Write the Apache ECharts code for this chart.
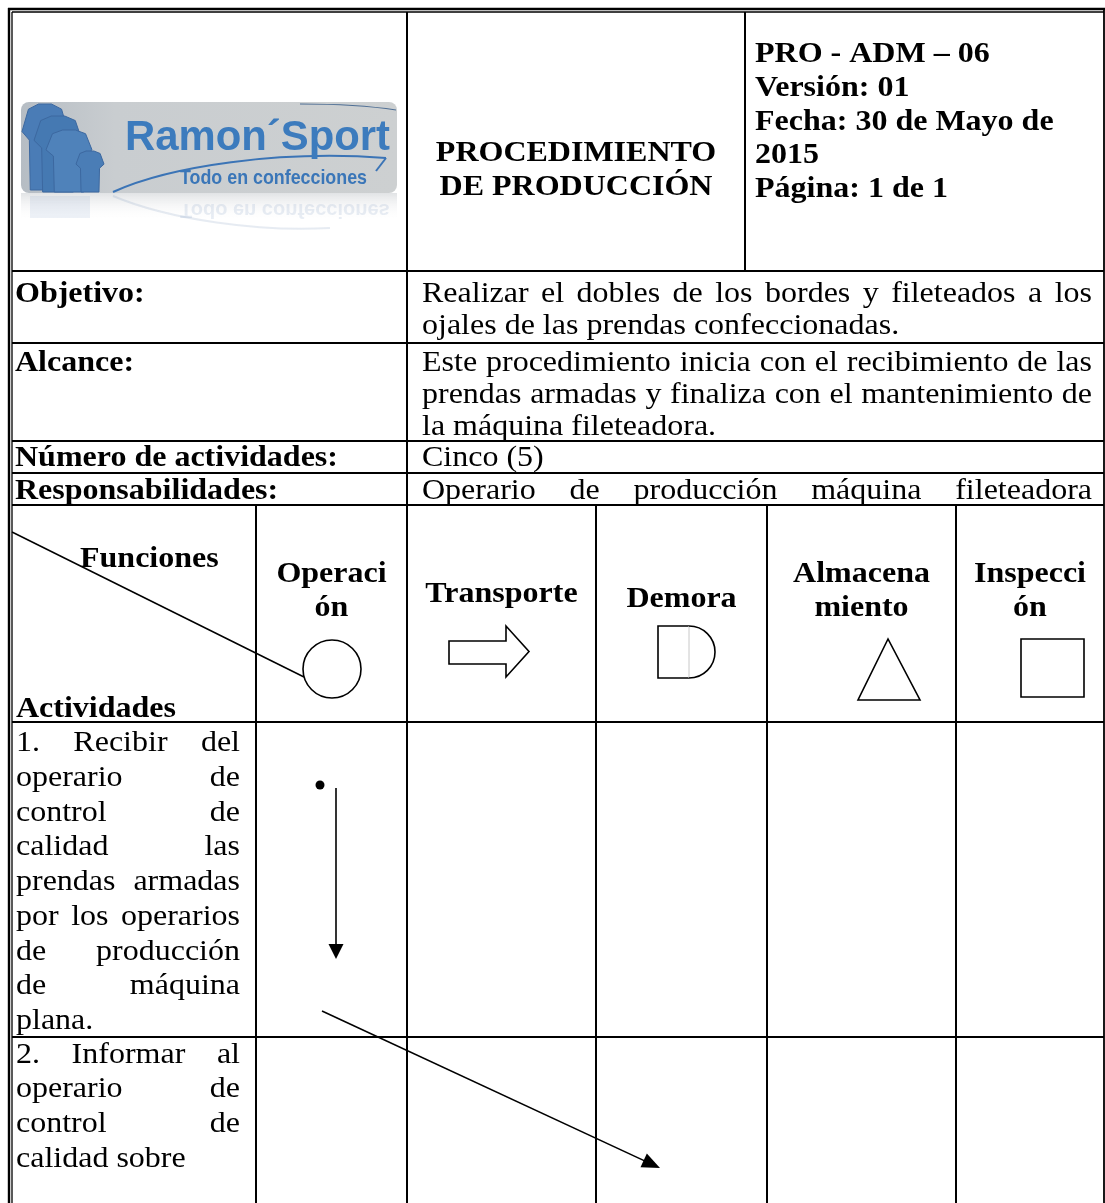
<!DOCTYPE html>
<html><head><meta charset="utf-8">
<script src="https://cdn.jsdelivr.net/npm/echarts@6/dist/echarts.min.js"></script>
<style>html,body{margin:0;padding:0;background:#fff}#c{width:1105px;height:1203px}</style>
</head><body><div id="c"></div>
<script>
// ---------- data ----------
const logoName = "Ramon´Sport";
const logoSlogan = "Todo en confecciones";
const headerTitle = ["PROCEDIMIENTO", "DE PRODUCCIÓN"];
const headerCode = ["PRO - ADM – 06", "Versión: 01", "Fecha: 30 de Mayo de", "2015", "Página: 1 de 1"];
const infoLabels = ["Objetivo:", "Alcance:", "Número de actividades:", "Responsabilidades:"];
const infoTexts = [
  ["Realizar el dobles de los bordes y fileteados a los", "ojales de las prendas confeccionadas."],
  ["Este procedimiento inicia con el recibimiento de las", "prendas armadas y finaliza con el mantenimiento de", "la máquina fileteadora."],
  ["Cinco (5)"],
  ["Operario de producción máquina fileteadora"]
];
const cornerLabels = ["Funciones", "Actividades"];
const functionNames = [["Operaci", "ón"], ["Transporte"], ["Demora"], ["Almacena", "miento"], ["Inspecci", "ón"]];
const functionSymbols = ["circle", "arrow", "delay", "triangle", "square"];
const activityTexts = [
  ["1. Recibir del", "operario de", "control de", "calidad las", "prendas armadas", "por los operarios", "de producción", "de máquina", "plana."],
  ["2. Informar al", "operario de", "control de", "calidad sobre"]
];
// flow: activity index -> function column index
const flowSteps = [0, 2];

// ---------- layout ----------
const W = 1105, H = 1203;
const FS = 29.5, SX = 32 / 29.5;
const SERIF = "'Liberation Serif','Times New Roman',serif";
const FONT = FS + "px " + SERIF, BFONT = "bold " + FS + "px " + SERIF;
const L = 12, R = 1104;
const colSplit = 407, codeSplit = 745;
const fnCols = [12, 256, 407, 596, 767, 956, 1104];
const headerBottom = 271;
const infoRowTops = [271, 343, 441, 473, 505];
const infoFirstBase = [301.5, 370.5, 465.5, 498.5];
const INFO_LH = 32;
const fnTop = 505, fnBottom = 722;
const actRowTops = [722, 1037];
const actFirstBase = [751, 1062.5];
const ACT_LH = 34.75;

const ctx = document.createElement('canvas').getContext('2d');
function measure(t, font) { ctx.font = font; return ctx.measureText(t).width; }
const offCache = {};
function midOffset(font) {
  if (offCache[font] !== undefined) return offCache[font];
  ctx.font = font; ctx.textBaseline = 'middle';
  const m = ctx.measureText('H'); ctx.textBaseline = 'alphabetic';
  const v = (m && m.actualBoundingBoxDescent) ? m.actualBoundingBoxDescent : 0.3 * parseFloat(font.match(/([\d.]+)px/)[1]);
  offCache[font] = v; return v;
}
const els = [];
function txt(t, x, baseline, font, align, fill, sx) {
  return { type: 'text', x: x, y: baseline - midOffset(font), scaleX: sx || 1, silent: true,
    style: { text: t, font: font, fill: fill || '#000', align: align || 'left', textAlign: align || 'left',
      verticalAlign: 'middle', textVerticalAlign: 'middle' } };
}
function stxt(t, x, baseline, font, align) { return txt(t, x, baseline, font, align, '#000', SX); }
function line(x1, y1, x2, y2, lw, color) {
  return { type: 'line', silent: true, shape: { x1, y1, x2, y2 }, style: { stroke: color || '#000', lineWidth: lw || 2 } };
}
function justified(lines, x0, x1, firstBaseline, lh, font, justifyLast) {
  lines.forEach((ln, li) => {
    const b = firstBaseline + li * lh;
    const words = ln.split(' ');
    if ((li === lines.length - 1 && !justifyLast) || words.length < 2) { els.push(stxt(ln, x0, b, font)); return; }
    const ws = words.map(w => measure(w, font) * SX);
    const gap = (x1 - x0 - ws.reduce((a, c) => a + c, 0)) / (words.length - 1);
    let x = x0;
    words.forEach((w, i) => { els.push(stxt(w, x, b, font)); x += ws[i] + gap; });
  });
}

// ---------- logo ----------
const LX = 21, LY = 102, LW = 376, LHh = 91;
els.push({ type: 'rect', silent: true, shape: { x: LX, y: LY + LHh, width: LW, height: 28 },
  style: { fill: { type: 'linear', x: 0, y: 0, x2: 0, y2: 1, colorStops: [{ offset: 0, color: 'rgba(196,200,204,0.5)' }, { offset: 1, color: 'rgba(255,255,255,0)' }] } } });
els.push({ type: 'group', silent: true, y: 2 * (LY + LHh) + 2, scaleY: -1, children: [
  txt(logoSlogan, 180, 184, "bold 20px 'Liberation Sans'", 'left', 'rgba(110,140,185,0.16)'),
  { type: 'rect', shape: { x: 30, y: 170, width: 60, height: 22 }, style: { fill: 'rgba(80,120,180,0.10)' } },
  { type: 'bezierCurve', shape: { x1: 113, y1: 192, cpx1: 170, cpy1: 168, cpx2: 260, cpy2: 156, x2: 330, y2: 160 }, style: { stroke: 'rgba(90,120,170,0.15)', lineWidth: 2, fill: null } }
] });
els.push({ type: 'rect', silent: true, shape: { x: LX, y: LY, width: LW, height: LHh, r: 8 },
  style: { fill: { type: 'linear', x: 0, y: 0, x2: 1, y2: 0, colorStops: [{ offset: 0, color: '#b6bdc4' }, { offset: 0.25, color: '#c9cdd0' }, { offset: 1, color: '#cdd0d1' }] } } });
function shirt(x, y, w, h, fill) {
  const p = [[0.36, 0], [0.64, 0], [0.86, 0.06], [1, 0.32], [0.84, 0.42], [0.82, 1], [0.18, 1], [0.16, 0.42], [0, 0.32], [0.14, 0.06]];
  return { type: 'polygon', silent: true, shape: { points: p.map(q => [x + q[0] * w, y + q[1] * h]) },
    style: { fill: fill, stroke: '#3c68a0', lineWidth: 1 } };
}
els.push(shirt(22, 104, 46, 86, '#4a7cb6'));
els.push(shirt(34, 116, 48, 76, '#4579b2'));
els.push(shirt(46, 130, 46, 62, '#4f82ba'));
els.push(shirt(76, 151, 28, 41, '#4a7db6'));
els.push({ type: 'bezierCurve', silent: true, shape: { x1: 113, y1: 192, cpx1: 170, cpy1: 166, cpx2: 280, cpy2: 150, x2: 386, y2: 158 }, style: { stroke: '#3b74b6', lineWidth: 2, fill: null } });
els.push(line(386, 158, 376, 171, 2, '#3b74b6'));
els.push({ type: 'bezierCurve', silent: true, shape: { x1: 300, y1: 104, cpx1: 340, cpy1: 104, cpx2: 370, cpy2: 106, x2: 396, y2: 110 }, style: { stroke: '#4f6f95', lineWidth: 1.2, fill: null } });
(function () {
  const f = "bold 42px 'Liberation Sans'";
  els.push(txt(logoName, 125, 150, f, 'left', '#3c7bbd', 265 / measure(logoName, f)));
  const f2 = "bold 21px 'Liberation Sans'";
  els.push(txt(logoSlogan, 180, 184, f2, 'left', '#3a76b8', 187 / measure(logoSlogan, f2)));
})();

// ---------- header texts ----------
const titleCx = (colSplit + codeSplit) / 2;
headerTitle.forEach((t, i) => els.push(stxt(t, titleCx, 161 + i * 34, BFONT, 'center')));
headerCode.forEach((t, i) => els.push(stxt(t, 755, 62 + i * 33.75, BFONT)));

// ---------- info rows ----------
infoLabels.forEach((t, i) => {
  const b = infoFirstBase[i];
  els.push(stxt(t, 15, b, BFONT));
  justified(infoTexts[i], 422, 1092, b, INFO_LH, FONT, i === 3);
});

// ---------- function header ----------
els.push(stxt(cornerLabels[0], 80, 566.5, BFONT));
els.push(stxt(cornerLabels[1], 16, 716.5, BFONT));
els.push(line(L, 532, 304, 677, 1.5));
functionNames.forEach((lines, i) => {
  const cx = (fnCols[i + 1] + fnCols[i + 2]) / 2;
  const b0 = lines.length === 2 ? 582 : (i === 1 ? 602 : 607);
  lines.forEach((t, j) => els.push(stxt(t, cx, b0 + j * 33.5, BFONT, 'center')));
});
const symStyle = { stroke: '#000', lineWidth: 1.6, fill: null };
functionSymbols.forEach(s => {
  if (s === 'circle') els.push({ type: 'circle', silent: true, shape: { cx: 332, cy: 669, r: 29 }, style: Object.assign({}, symStyle, { fill: '#fff' }) });
  if (s === 'arrow') els.push({ type: 'polygon', silent: true, shape: { points: [[449, 641], [506, 641], [506, 626], [529, 651.5], [506, 677], [506, 664], [449, 664]] }, style: symStyle });
  if (s === 'delay') {
    els.push({ type: 'polyline', silent: true, shape: { points: [[689, 626], [658, 626], [658, 678], [689, 678]] }, style: symStyle });
    els.push(line(689, 626, 689, 678, 1, '#c8c8c8'));
    els.push({ type: 'arc', silent: true, shape: { cx: 689, cy: 652, r: 26, startAngle: -Math.PI / 2, endAngle: Math.PI / 2, clockwise: true }, style: symStyle });
  }
  if (s === 'triangle') els.push({ type: 'polygon', silent: true, shape: { points: [[888, 639], [858, 700], [920, 700]] }, style: symStyle });
  if (s === 'square') els.push({ type: 'rect', silent: true, shape: { x: 1021, y: 639, width: 63, height: 58 }, style: symStyle });
});

// ---------- activities ----------
activityTexts.forEach((lines, i) => justified(lines, 16, 240, actFirstBase[i], ACT_LH, FONT, false));

// ---------- flow marks ----------
function arrowHead(x1, y1, x2, y2, len, hw) {
  const dx = x2 - x1, dy = y2 - y1, d = Math.hypot(dx, dy), ux = dx / d, uy = dy / d;
  const bx = x2 - ux * len, by = y2 - uy * len;
  return { type: 'polygon', silent: true, shape: { points: [[x2, y2], [bx - uy * hw, by + ux * hw], [bx + uy * hw, by - ux * hw]] }, style: { fill: '#000' } };
}
(function () {
  const c0 = (fnCols[flowSteps[0] + 1] + fnCols[flowSteps[0] + 2]) / 2;
  const top = actRowTops[0];
  els.push({ type: 'circle', silent: true, shape: { cx: c0 - 11.5, cy: top + 63, r: 4.5 }, style: { fill: '#000' } });
  els.push(line(c0 + 4.5, top + 66, c0 + 4.5, top + 225, 1.6));
  els.push(arrowHead(c0 + 4.5, top + 66, c0 + 4.5, top + 237, 15, 7.5));
  const c1 = (fnCols[flowSteps[1] + 1] + fnCols[flowSteps[1] + 2]) / 2;
  const sx = c0 - 9.5, sy = actRowTops[1] - 26, ex = c1 - 21.5, ey = actRowTops[1] + 131;
  const ux = (ex - sx), uy = (ey - sy), d = Math.hypot(ux, uy);
  els.push(line(sx, sy, ex - ux / d * 14, ey - uy / d * 14, 1.6));
  els.push(arrowHead(sx, sy, ex, ey, 18, 7.5));
})();

// ---------- grid lines ----------
els.push(line(8, 9, R + 1, 9, 2.4));
els.push(line(L, 12, R, 12, 1.3));
els.push(line(9, 8, 9, H, 2.4));
els.push(line(12, 12, 12, H, 1.3));
els.push(line(R, 8, R, H, 1.8));
els.push(line(colSplit, 12, colSplit, fnTop, 2));
els.push(line(codeSplit, 12, codeSplit, headerBottom, 2));
infoRowTops.forEach(y => els.push(line(L, y, R, y, 2)));
els.push(line(L, fnBottom, R, fnBottom, 2));
actRowTops.slice(1).forEach(y => els.push(line(L, y, R, y, 2)));
fnCols.slice(1, -1).forEach(x => els.push(line(x, fnTop, x, H, 2)));

const chart = echarts.init(document.getElementById('c'), null, { renderer: 'canvas', width: W, height: H });
chart.setOption({ animation: false, graphic: { elements: els } });
</script></body></html>
